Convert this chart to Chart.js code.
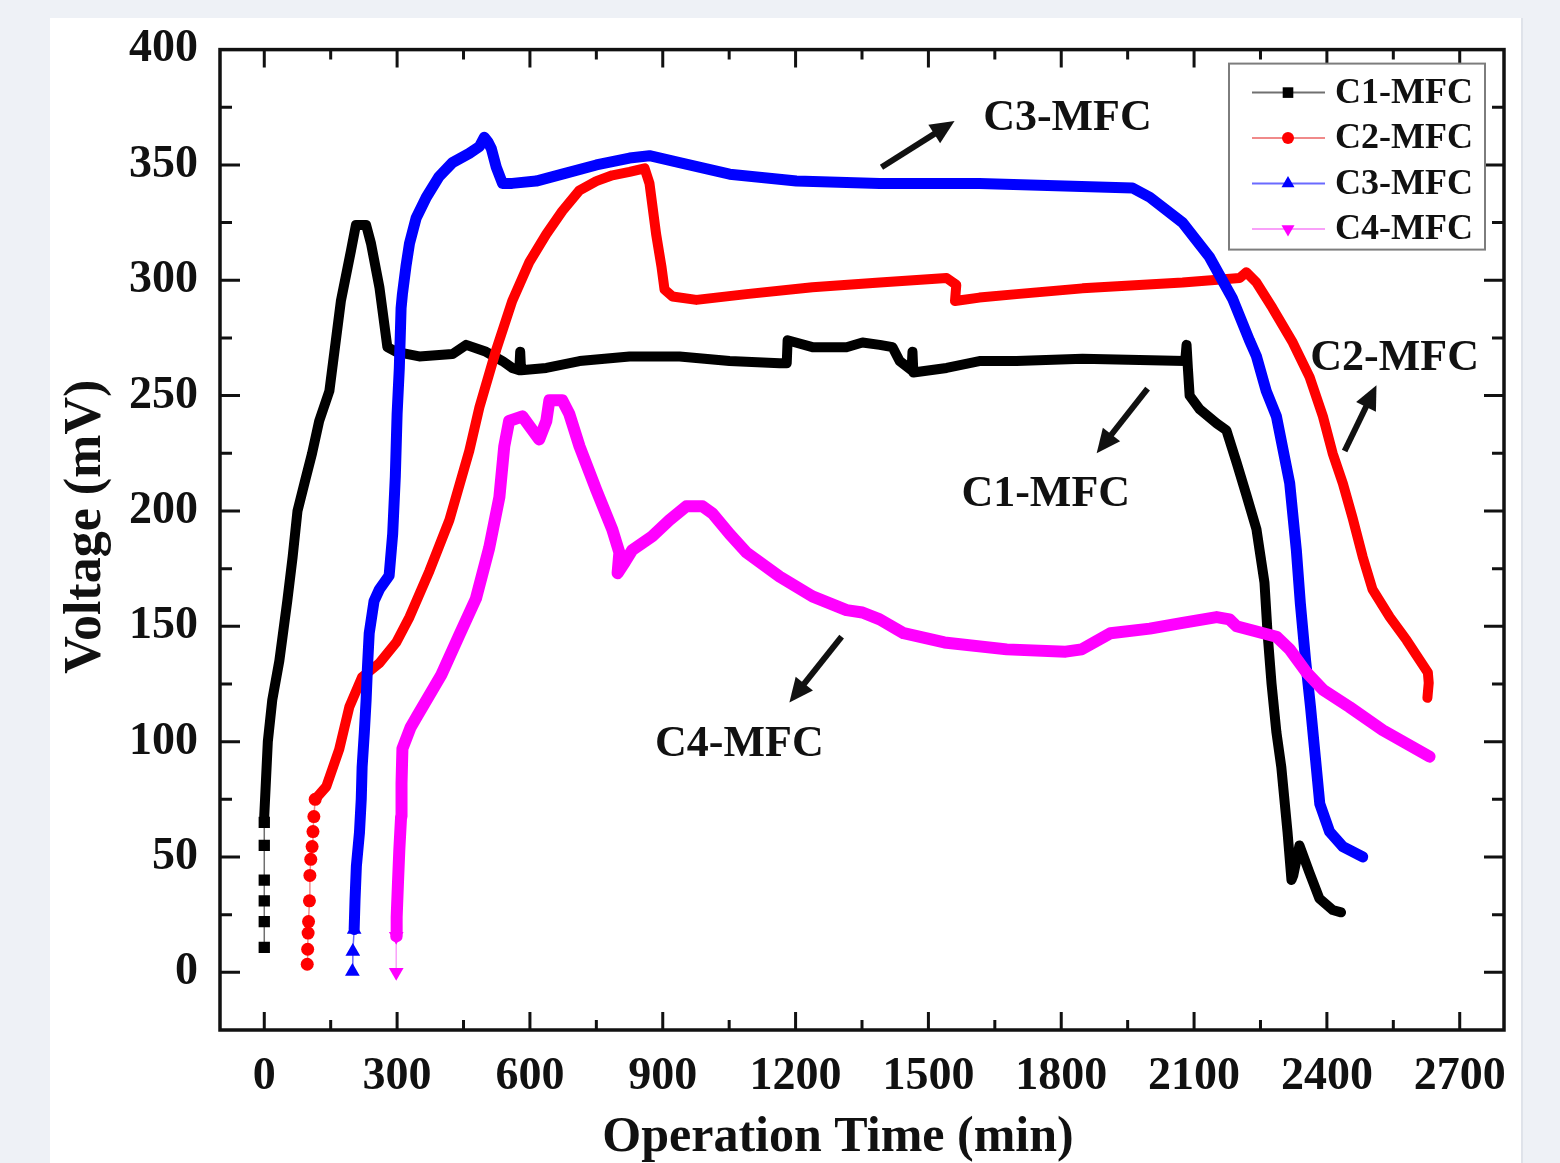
<!DOCTYPE html>
<html>
<head>
<meta charset="utf-8">
<title>Voltage vs Operation Time</title>
<script src="https://cdn.jsdelivr.net/npm/chart.js@4.4.1/dist/chart.umd.min.js"></script>
<style>
  html, body { margin: 0; padding: 0; background: #eef1f6; }
  #panel { position: absolute; left: 50px; top: 18px; width: 1471px; height: 1145px; background: #fff; border-right: 2px solid #dfe3ea; }
  #wrap { position: absolute; left: 0; top: 0; width: 1560px; height: 1163px; }
</style>
</head>
<body>
<div id="panel"></div>
<div id="wrap"><canvas id="chart"></canvas></div>
<script>
// tick values
const xMajorTicks = [0, 300, 600, 900, 1200, 1500, 1800, 2100, 2400, 2700];
const yMajorTicks = [0, 50, 100, 150, 200, 250, 300, 350, 400];

const seriesNames = ['C1-MFC', 'C2-MFC', 'C3-MFC', 'C4-MFC'];
const xTitle = 'Operation Time (min)';
const yTitle = 'Voltage (mV)';

// [time (min), voltage (mV)]
const c1 = [
  [0,10.8],[0,22],[0,31],[0,40],[0,55],[0,65],
  [0,68],[8,100],[18,118],[34,135],[52,161],[64,180],[75,200],[92,213],[108,225],[124,239],
  [147,252],[173,291],[196,313],[207,324],[230,324],[241,316],[260,297],[278,271],[298,269],
  [350,267],[425,268],[456,272],[501,269],[538,265],[560,262],[576,261],[578,269],[580,261],
  [637,262],[712,265],[825,267],[938,267],[1051,265],[1164,264],[1180,264],[1182,274],
  [1238,271],[1315,271],[1351,273],[1390,272],[1419,271],[1435,265],[1462,261],[1464,269],
  [1466,260],[1541,262],[1615,265],[1699,265],[1848,266],[2080,265],[2083,272],[2086,262],
  [2090,250],[2113,244],[2151,238],[2173,235],[2196,221],[2218,207],[2241,192],[2248,183],
  [2259,169],[2266,147],[2275,125],[2286,104],[2297,89],[2311,61],[2320,40],[2324,42],
  [2338,55],[2361,43],[2383,32],[2413,27],[2432,26]
];
const c2 = [
  [97,3.5],[98,10],[99,17],[100,22],[102,31],[103,42],[105,49],[108,54.5],[110,61],[112,67.5],[115,75],
  [140,80.5],[169,96.5],[192,115],[221,128],[260,134],[298,143],[328,154],[373,174],[418,196],
  [463,226],[486,245],[524,270],[560,291],[599,308],[637,320],[673,330],[712,339],[750,343],
  [786,345.5],[825,347],[859,348.5],[870,342],[885,320],[897,306],[904,296],[922,293],[976,291.5],
  [1089,294],[1238,297],[1390,299],[1541,301],[1563,298],[1560,291],[1615,292.5],[1699,294],
  [1848,296.5],[2074,299],[2203,301],[2218,303.5],[2241,299],[2277,288],[2323,273],[2361,258],
  [2391,241],[2413,225],[2436,212],[2458,197],[2481,180],[2503,166],[2542,154],[2580,144],
  [2609,135.5],[2628,130],[2630,125.5],[2627,119]
];
const c3 = [
  [199,0.4],[200,9],[203,18.6],
  [205,31.6],[208,46],[215,60.6],[219,75],[221,89],[226,104],[230,118],[233,132],[237,147],
  [248,161],[260,166],[282,172],[290,190],[296,215],[300,242],[305,262],[309,288],[312,294],
  [320,306],[328,316],[343,327],[366,336],[395,345],[425,351],[463,355],[486,358],[497,362],
  [505,360],[513,357],[524,349],[538,342],[560,342],[614,343],[673,346],[750,350],[825,353],
  [870,354],[938,351],[1051,346],[1202,343],[1390,342],[1615,342],[1961,340],[2000,336],
  [2074,325],[2135,310],[2187,292],[2225,274],[2241,267],[2263,252],[2286,241],[2316,212],
  [2331,183],[2340,160],[2352,135],[2363,115],[2374,93],[2384,73],[2406,61],[2436,54.5],[2481,50]
];
const c4 = [
  [298,0],[298,15.6],
  [299,24],[302,39],[305,53],[309,67.5],[310,82],[312,97],[330,106],[345,111],[400,129],
  [440,146],[478,162],[508,184],[531,206],[542,228],[553,239],[583,241],[621,231],[637,239],
  [644,248],[673,248],[689,242],[712,228],[750,209],[786,192],[802,182],[798,173],[815,178],
  [831,183],[876,189],[915,196],[953,202],[990,202],[1012,199],[1051,190],[1089,182],
  [1164,171.5],[1238,163],[1315,157],[1351,156],[1390,153],[1444,147],[1536,143],[1677,140],
  [1810,139],[1846,140],[1911,147],[2000,149],[2074,151.5],[2151,154],[2180,153],[2196,150],
  [2286,145.5],[2316,140],[2354,130],[2391,122.5],[2451,115],[2526,105],[2632,93.5]
];

const seriesData = [c1, c2, c3, c4];

// look of each curve; "lead" = leading samples drawn as separate markers
const STYLE = [
  { color: '#000000', thin: '#707070', point: 'rect',     radius: 8,   rotation: 0,   lead: 6,  width: 10 },
  { color: '#ff0000', thin: '#f08a8a', point: 'circle',   radius: 6.5, rotation: 0,   lead: 11, width: 10 },
  { color: '#0000ff', thin: '#6a6aff', point: 'triangle', radius: 8.5, rotation: 0,   lead: 3,  width: 11 },
  { color: '#ff00ff', thin: '#f9a0f9', point: 'triangle', radius: 8.5, rotation: 180, lead: 2,  width: 12 }
];

// callouts, in data units
const calloutText = [
  { text: 'C3-MFC', x: 1814, y: 370 },
  { text: 'C2-MFC', x: 2553, y: 266 },
  { text: 'C1-MFC', x: 1765, y: 207 },
  { text: 'C4-MFC', x: 1073, y: 98.7 }
];
const calloutArrows = [
  { from: [1394, 349], to: [1559, 369] },
  { from: [1995, 253], to: [1880, 225] },
  { from: [2440, 226], to: [2512, 254.5] },
  { from: [1304, 145.5], to: [1186, 117] }
];

const SERIF = "'Liberation Serif', 'Times New Roman', serif";

function makeDataset(i) {
  const s = STYLE[i];
  return {
    label: seriesNames[i],
    data: seriesData[i].map(([x, y]) => ({ x, y })),
    borderColor: s.color,
    backgroundColor: s.color,
    borderWidth: s.width,
    borderJoinStyle: 'round',
    borderCapStyle: 'round',
    pointStyle: s.point,
    pointRotation: s.rotation,
    pointRadius: ctx => (ctx.dataIndex < s.lead ? s.radius : 0),
    pointHoverRadius: 0,
    pointBorderWidth: 0,
    tension: 0,
    order: 4 - i, // magenta drawn on top, black at the bottom
    segment: {
      borderWidth: ctx => (ctx.p1DataIndex < s.lead ? 1.5 : s.width),
      borderColor: ctx => (ctx.p1DataIndex < s.lead ? s.thin : s.color)
    }
  };
}

// frame + inward ticks on all four sides
const framePlugin = {
  id: 'frame',
  afterDatasetsDraw(chart) {
    const { ctx, chartArea: a, scales: { x, y } } = chart;
    const mids = arr => arr.slice(1).map((v, k) => (v + arr[k]) / 2);
    ctx.save();
    ctx.strokeStyle = '#111';
    ctx.lineWidth = 3;
    ctx.beginPath();
    const xt = xMajorTicks.map(v => [v, 18]).concat(mids(xMajorTicks).map(v => [v, 10]));
    xt.forEach(([v, len]) => {
      const px = x.getPixelForValue(v);
      ctx.moveTo(px, a.bottom); ctx.lineTo(px, a.bottom - len);
      ctx.moveTo(px, a.top); ctx.lineTo(px, a.top + len);
    });
    const yt = yMajorTicks.map(v => [v, 20]).concat(mids(yMajorTicks).map(v => [v, 12]));
    yt.forEach(([v, len]) => {
      const py = y.getPixelForValue(v);
      ctx.moveTo(a.left, py); ctx.lineTo(a.left + len, py);
      ctx.moveTo(a.right, py); ctx.lineTo(a.right - len, py);
    });
    ctx.stroke();
    ctx.lineWidth = 3.5;
    ctx.strokeRect(a.left, a.top, a.right - a.left, a.bottom - a.top);
    ctx.restore();
  }
};

// axis titles (the original sits a little off centre, so placed by hand)
const titlePlugin = {
  id: 'axisTitles',
  afterDraw(chart) {
    const { ctx, chartArea: a } = chart;
    ctx.save();
    ctx.fillStyle = '#111';
    ctx.textAlign = 'center';
    ctx.textBaseline = 'alphabetic';
    ctx.font = `bold 50px ${SERIF}`;
    ctx.fillText(xTitle, (a.left + a.right) / 2 - 24, a.bottom + 121);
    ctx.translate(100, (a.top + a.bottom) / 2 - 13);
    ctx.rotate(-Math.PI / 2);
    ctx.font = `bold 52px ${SERIF}`;
    ctx.fillText(yTitle, 0, 0);
    ctx.restore();
  }
};

// text callouts with arrows
const calloutPlugin = {
  id: 'callouts',
  afterDatasetsDraw(chart) {
    const { ctx, scales: { x, y } } = chart;
    ctx.save();
    ctx.fillStyle = '#111';
    ctx.strokeStyle = '#111';
    ctx.font = `bold 44px ${SERIF}`;
    ctx.textAlign = 'center';
    ctx.textBaseline = 'middle';
    calloutText.forEach(t => ctx.fillText(t.text, x.getPixelForValue(t.x), y.getPixelForValue(t.y)));

    calloutArrows.forEach(ar => {
      const x0 = x.getPixelForValue(ar.from[0]), y0 = y.getPixelForValue(ar.from[1]);
      const x1 = x.getPixelForValue(ar.to[0]), y1 = y.getPixelForValue(ar.to[1]);
      const ang = Math.atan2(y1 - y0, x1 - x0);
      const headLen = 24, headW = 11;
      const bx = x1 - headLen * Math.cos(ang), by = y1 - headLen * Math.sin(ang);
      ctx.lineWidth = 6;
      ctx.lineCap = 'butt';
      ctx.beginPath();
      ctx.moveTo(x0, y0);
      ctx.lineTo(bx + 2 * Math.cos(ang), by + 2 * Math.sin(ang));
      ctx.stroke();
      ctx.beginPath();
      ctx.moveTo(x1, y1);
      ctx.lineTo(bx + headW * Math.sin(ang), by - headW * Math.cos(ang));
      ctx.lineTo(bx - headW * Math.sin(ang), by + headW * Math.cos(ang));
      ctx.closePath();
      ctx.fill();
    });
    ctx.restore();
  }
};

// boxed legend in the upper right corner
const legendPlugin = {
  id: 'boxLegend',
  afterDraw(chart) {
    const { ctx, chartArea: a } = chart;
    const left = a.right - 275, top = a.top + 14, w = 256, h = 186;
    ctx.save();
    ctx.fillStyle = '#fff';
    ctx.fillRect(left, top, w, h);
    ctx.strokeStyle = '#7d7d7d';
    ctx.lineWidth = 2;
    ctx.strokeRect(left, top, w, h);
    seriesNames.forEach((name, i) => {
      const s = STYLE[i];
      const cy = top + 29 + i * 45.5;
      ctx.strokeStyle = s.thin;
      ctx.lineWidth = 2;
      ctx.beginPath();
      ctx.moveTo(left + 23, cy);
      ctx.lineTo(left + 96, cy);
      ctx.stroke();
      ctx.fillStyle = s.color;
      Chart.helpers.drawPoint(ctx, {
        pointStyle: s.point, radius: s.point === 'circle' ? 6 : 7.5,
        rotation: s.rotation, borderWidth: 0
      }, left + 59, cy);
      ctx.fillStyle = '#111';
      ctx.font = `bold 36px ${SERIF}`;
      ctx.textAlign = 'left';
      ctx.textBaseline = 'middle';
      ctx.fillText(name, left + 106, cy + 1);
    });
    ctx.restore();
  }
};

const tickFont = { family: SERIF, size: 46, weight: 'bold' };

new Chart(document.getElementById('chart'), {
  type: 'line',
  data: { datasets: seriesNames.map((_, i) => makeDataset(i)) },
  options: {
    responsive: true,
    maintainAspectRatio: false,
    animation: false,
    events: [],
    layout: { padding: { left: 0, right: 56, top: 48, bottom: 0 } },
    plugins: { legend: { display: false }, tooltip: { enabled: false } },
    scales: {
      x: {
        type: 'linear',
        min: -100,
        max: 2800,
        afterBuildTicks: s => { s.ticks = xMajorTicks.map(v => ({ value: v })); },
        afterFit: s => { s.height = 133; },
        grid: { display: false, drawTicks: false },
        border: { display: false },
        ticks: { font: tickFont, color: '#111', padding: 20, maxRotation: 0, autoSkip: false, callback: v => String(v) }
      },
      y: {
        type: 'linear',
        min: -25,
        max: 400,
        afterBuildTicks: s => { s.ticks = yMajorTicks.map(v => ({ value: v })); },
        afterFit: s => { s.width = 220; },
        grid: { display: false, drawTicks: false },
        border: { display: false },
        ticks: { font: tickFont, color: '#111', padding: 22, autoSkip: false, callback: v => String(v) }
      }
    }
  },
  plugins: [framePlugin, calloutPlugin, legendPlugin, titlePlugin]
});
</script>
</body>
</html>
